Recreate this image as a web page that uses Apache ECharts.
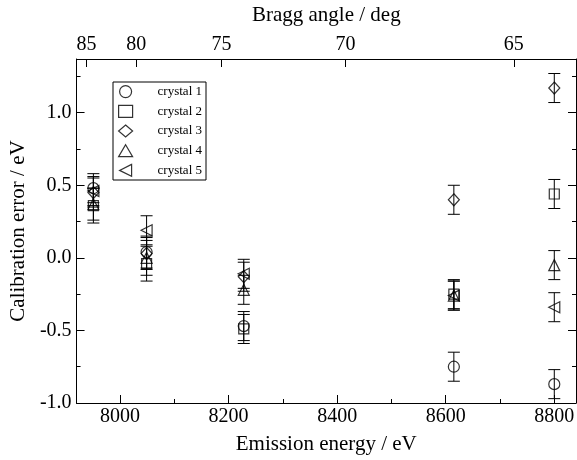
<!DOCTYPE html>
<html>
<head>
<meta charset="utf-8">
<script src="https://cdn.jsdelivr.net/npm/echarts@6/dist/echarts.min.js"></script>
<style>html,body{margin:0;padding:0;background:#fff}#chart{width:577px;height:460px}</style>
</head>
<body>
<div id="chart"></div>
<script>
// ---- data ----
const energy   = [7951, 8049, 8228, 8615, 8800];           // emission energy / eV
const names    = ['crystal 1', 'crystal 2', 'crystal 3', 'crystal 4', 'crystal 5'];
const crystal1 = [0.48, 0.04, -0.47, -0.75, -0.87];
const crystal2 = [0.36, -0.04, -0.49, -0.25, 0.44];
const crystal3 = [0.45, 0.03, -0.13, 0.40, 1.17];
const crystal4 = [0.37, 0.00, -0.22, -0.26, -0.05];
const crystal5 = [0.46, 0.19, -0.11, -0.26, -0.34];
const err1 = [0.10, 0.11, 0.10, 0.10, 0.10];
const err2 = [0.12, 0.12, 0.10, 0.10, 0.10];
const err3 = [0.10, 0.11, 0.10, 0.10, 0.10];
const err4 = [0.11, 0.12, 0.10, 0.10, 0.10];
const err5 = [0.10, 0.10, 0.10, 0.10, 0.10];
const xTicks      = [8000, 8200, 8400, 8600, 8800];
const xMinorTicks = [8100, 8300, 8500, 8700];
const yTicks      = [-1.0, -0.5, 0.0, 0.5, 1.0];
const yMinorTicks = [-0.75, -0.25, 0.25, 0.75, 1.25];
const braggTicks  = [85, 80, 75, 70, 65];                   // deg
const braggK = 7908;                                        // E = K / sin(theta)

const values = [crystal1, crystal2, crystal3, crystal4, crystal5];
const errors = [err1, err2, err3, err4, err5];
const symbols = ['circle', 'rect', 'diamond', 'triangle', 'path://M10,0 L0,5 L10,10 Z'];
const sizes = [11, 10, [11, 12], [11, 11], [11, 11]];

const FONT = 'Liberation Serif';
const X_MIN = 7920, X_MAX = 8840, Y_MIN = -1.0, Y_MAX = 1.37;
const braggEnergies = braggTicks.map(a => braggK / Math.sin(a * Math.PI / 180));

const line = { show: true, onZero: false, lineStyle: { color: '#000', width: 1 } };
const noLine = { show: false, onZero: false };

function errRender(params, api) {
  const x = api.value(0), lo = api.value(1), hi = api.value(2);
  const p1 = api.coord([x, lo]);
  const p2 = api.coord([x, hi]);
  const w = 6;
  const st = { stroke: '#000', lineWidth: 1 };
  return {
    type: 'group',
    children: [
      { type: 'line', shape: { x1: p1[0], y1: p1[1], x2: p2[0], y2: p2[1] }, style: st },
      { type: 'line', shape: { x1: p1[0] - w, y1: p1[1], x2: p1[0] + w, y2: p1[1] }, style: st },
      { type: 'line', shape: { x1: p2[0] - w, y1: p2[1], x2: p2[0] + w, y2: p2[1] }, style: st }
    ]
  };
}

const series = [];
values.forEach((vals, i) => {
  series.push({
    type: 'custom',
    name: names[i] + ' err',
    renderItem: errRender,
    xAxisIndex: 0, yAxisIndex: 0,
    data: energy.map((e, j) => [e, vals[j] - errors[i][j], vals[j] + errors[i][j]]),
    z: 2,
    silent: true
  });
});
values.forEach((vals, i) => {
  series.push({
    type: 'scatter',
    name: names[i],
    xAxisIndex: 0, yAxisIndex: 0,
    symbol: symbols[i],
    symbolSize: sizes[i],
    itemStyle: { color: 'rgba(0,0,0,0)', borderColor: '#000', borderWidth: 1.2 },
    data: energy.map((e, j) => [e, vals[j]]),
    z: 5
  });
});

const chart = echarts.init(document.getElementById('chart'), null, { renderer: 'canvas' });
chart.setOption({
  animation: false,
  backgroundColor: '#fff',
  textStyle: { fontFamily: FONT },
  grid: { left: 70, right: 1, top: 53, bottom: 52, containLabel: false },
  legend: {
    data: names,
    orient: 'vertical',
    left: 113, top: 82,
    itemWidth: 14, itemHeight: 12, itemGap: 6.5,
    padding: [3, 4, 3, 5],
    borderColor: '#000', borderWidth: 1, borderRadius: 0,
    backgroundColor: '#fff',
    itemStyle: { color: 'rgba(0,0,0,0)', borderColor: '#000', borderWidth: 1.2 },
    textStyle: { fontFamily: FONT, fontSize: 13, color: '#000', padding: [0, 0, 0, 20] }
  },
  xAxis: [
    {
      type: 'value', position: 'bottom', min: X_MIN, max: X_MAX,
      name: 'Emission energy / eV', nameLocation: 'middle', nameGap: 31,
      nameTextStyle: { fontFamily: FONT, fontSize: 21, color: '#000' },
      axisLine: line,
      axisTick: { show: true, inside: true, length: 8, customValues: xTicks, lineStyle: { color: '#000' } },
      axisLabel: { customValues: xTicks, fontFamily: FONT, fontSize: 20, color: '#000', margin: 4,
                   formatter: v => String(v) },
      splitLine: { show: false }
    },
    {
      type: 'value', position: 'top', min: X_MIN, max: X_MAX,
      name: 'Bragg angle / deg', nameLocation: 'middle', nameGap: 33,
      nameTextStyle: { fontFamily: FONT, fontSize: 21, color: '#000' },
      axisLine: line,
      axisTick: { show: true, inside: true, length: 8, customValues: braggEnergies, lineStyle: { color: '#000' } },
      axisLabel: {
        customValues: braggEnergies, fontFamily: FONT, fontSize: 20, color: '#000', margin: 4,
        formatter: v => String(Math.round(Math.asin(braggK / v) * 180 / Math.PI))
      },
      splitLine: { show: false }
    },
    {
      type: 'value', position: 'bottom', min: X_MIN, max: X_MAX,
      axisLine: noLine,
      axisTick: { show: true, inside: true, length: 4, customValues: xMinorTicks, lineStyle: { color: '#000' } },
      axisLabel: { show: false },
      splitLine: { show: false }
    }
  ],
  yAxis: [
    {
      type: 'value', position: 'left', min: Y_MIN, max: Y_MAX,
      name: 'Calibration error / eV', nameLocation: 'middle', nameGap: 44,
      nameTextStyle: { fontFamily: FONT, fontSize: 21, color: '#000' },
      axisLine: line,
      axisTick: { show: true, inside: true, length: 8, customValues: yTicks, lineStyle: { color: '#000' } },
      axisLabel: { customValues: yTicks, fontFamily: FONT, fontSize: 20, color: '#000', margin: 5,
                   formatter: v => v.toFixed(1) },
      splitLine: { show: false }
    },
    {
      type: 'value', position: 'left', min: Y_MIN, max: Y_MAX,
      axisLine: noLine,
      axisTick: { show: true, inside: true, length: 4, customValues: yMinorTicks, lineStyle: { color: '#000' } },
      axisLabel: { show: false },
      splitLine: { show: false }
    },
    {
      type: 'value', position: 'right', min: Y_MIN, max: Y_MAX,
      axisLine: line,
      axisTick: { show: true, inside: true, length: 8, customValues: yTicks, lineStyle: { color: '#000' } },
      axisLabel: { show: false },
      splitLine: { show: false }
    },
    {
      type: 'value', position: 'right', min: Y_MIN, max: Y_MAX,
      axisLine: noLine,
      axisTick: { show: true, inside: true, length: 4, customValues: yMinorTicks, lineStyle: { color: '#000' } },
      axisLabel: { show: false },
      splitLine: { show: false }
    }
  ],
  series: series
});
</script>
</body>
</html>
